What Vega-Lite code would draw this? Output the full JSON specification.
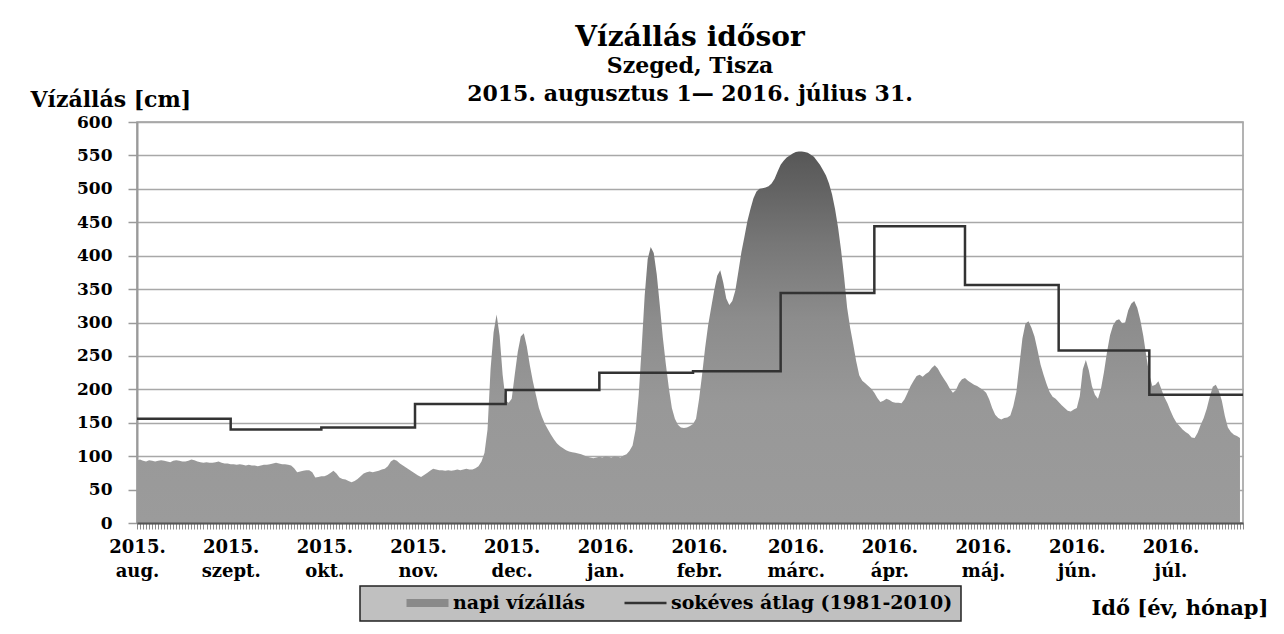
{
 "$schema": "https://vega.github.io/schema/vega-lite/v6.json",
 "width": 1106,
 "height": 401,
 "autosize": {"type": "none"},
 "padding": {"left": 137, "top": 122, "right": 41, "bottom": 111},
 "background": "white",
 "title": {
  "text": "Vízállás idősor",
  "subtitle": ["Szeged, Tisza", "2015. augusztus 1— 2016.  július 31."],
  "anchor": "middle", "frame": "group",
  "font": "DejaVu Serif", "fontSize": 28, "fontWeight": "bold", "color": "black",
  "subtitleFont": "DejaVu Serif", "subtitleFontSize": 22, "subtitleFontWeight": "bold", "subtitleColor": "black",
  "subtitleLineHeight": 28, "subtitlePadding": 4, "offset": -17
 },
 "config": {
  "view": {"stroke": "#9a9a9a", "strokeWidth": 1.5},
  "axis": {"labelFont": "DejaVu Serif", "labelFontWeight": "bold", "labelColor": "black", "titleFont": "DejaVu Serif", "titleFontWeight": "bold", "titleColor": "black"}
 },
 "datasets": {
  "napi": [
{"nap":0,"v":94},{"nap":1,"v":95},{"nap":2,"v":93},{"nap":3,"v":92},{"nap":4,"v":94},{"nap":5,"v":93},{"nap":6,"v":92},{"nap":7,"v":93},{"nap":8,"v":94},{"nap":9,"v":93},{"nap":10,"v":92},{"nap":11,"v":91},{"nap":12,"v":93},{"nap":13,"v":94},{"nap":14,"v":93},{"nap":15,"v":92},{"nap":16,"v":92},{"nap":17,"v":93},{"nap":18,"v":95},{"nap":19,"v":94},{"nap":20,"v":92},{"nap":21,"v":91},{"nap":22,"v":90},{"nap":23,"v":91},{"nap":24,"v":90},{"nap":25,"v":90},{"nap":26,"v":91},{"nap":27,"v":92},{"nap":28,"v":90},{"nap":29,"v":89},{"nap":30,"v":89},
{"nap":31,"v":88},{"nap":32,"v":88},{"nap":33,"v":87},{"nap":34,"v":88},{"nap":35,"v":87},{"nap":36,"v":86},{"nap":37,"v":87},{"nap":38,"v":86},{"nap":39,"v":86},{"nap":40,"v":85},{"nap":41,"v":86},{"nap":42,"v":87},{"nap":43,"v":87},{"nap":44,"v":88},{"nap":45,"v":89},{"nap":46,"v":90},{"nap":47,"v":89},{"nap":48,"v":88},{"nap":49,"v":88},{"nap":50,"v":87},{"nap":51,"v":86},{"nap":52,"v":82},{"nap":53,"v":76},{"nap":54,"v":77},{"nap":55,"v":78},{"nap":56,"v":79},{"nap":57,"v":79},{"nap":58,"v":76},{"nap":59,"v":68},{"nap":60,"v":69},
{"nap":61,"v":70},{"nap":62,"v":70},{"nap":63,"v":72},{"nap":64,"v":75},{"nap":65,"v":78},{"nap":66,"v":74},{"nap":67,"v":68},{"nap":68,"v":66},{"nap":69,"v":65},{"nap":70,"v":63},{"nap":71,"v":61},{"nap":72,"v":63},{"nap":73,"v":66},{"nap":74,"v":70},{"nap":75,"v":74},{"nap":76,"v":76},{"nap":77,"v":77},{"nap":78,"v":76},{"nap":79,"v":77},{"nap":80,"v":78},{"nap":81,"v":80},{"nap":82,"v":81},{"nap":83,"v":85},{"nap":84,"v":92},{"nap":85,"v":95},{"nap":86,"v":93},{"nap":87,"v":89},{"nap":88,"v":86},{"nap":89,"v":83},{"nap":90,"v":80},{"nap":91,"v":77},
{"nap":92,"v":74},{"nap":93,"v":71},{"nap":94,"v":69},{"nap":95,"v":72},{"nap":96,"v":75},{"nap":97,"v":78},{"nap":98,"v":81},{"nap":99,"v":80},{"nap":100,"v":79},{"nap":101,"v":79},{"nap":102,"v":78},{"nap":103,"v":79},{"nap":104,"v":78},{"nap":105,"v":79},{"nap":106,"v":80},{"nap":107,"v":79},{"nap":108,"v":80},{"nap":109,"v":81},{"nap":110,"v":80},{"nap":111,"v":80},{"nap":112,"v":82},{"nap":113,"v":85},{"nap":114,"v":92},{"nap":115,"v":105},{"nap":116,"v":140},{"nap":117,"v":230},{"nap":118,"v":285},{"nap":119,"v":312},{"nap":120,"v":280},{"nap":121,"v":222},
{"nap":122,"v":183},{"nap":123,"v":180},{"nap":124,"v":186},{"nap":125,"v":222},{"nap":126,"v":256},{"nap":127,"v":279},{"nap":128,"v":284},{"nap":129,"v":264},{"nap":130,"v":236},{"nap":131,"v":212},{"nap":132,"v":192},{"nap":133,"v":172},{"nap":134,"v":159},{"nap":135,"v":148},{"nap":136,"v":140},{"nap":137,"v":132},{"nap":138,"v":125},{"nap":139,"v":119},{"nap":140,"v":115},{"nap":141,"v":112},{"nap":142,"v":109},{"nap":143,"v":107},{"nap":144,"v":106},{"nap":145,"v":105},{"nap":146,"v":104},{"nap":147,"v":103},{"nap":148,"v":101},{"nap":149,"v":99},{"nap":150,"v":98},{"nap":151,"v":97},{"nap":152,"v":98},
{"nap":153,"v":99},{"nap":154,"v":98},{"nap":155,"v":100},{"nap":156,"v":99},{"nap":157,"v":98},{"nap":158,"v":100},{"nap":159,"v":99},{"nap":160,"v":98},{"nap":161,"v":101},{"nap":162,"v":103},{"nap":163,"v":108},{"nap":164,"v":116},{"nap":165,"v":140},{"nap":166,"v":190},{"nap":167,"v":262},{"nap":168,"v":340},{"nap":169,"v":395},{"nap":170,"v":413},{"nap":171,"v":404},{"nap":172,"v":372},{"nap":173,"v":326},{"nap":174,"v":278},{"nap":175,"v":238},{"nap":176,"v":202},{"nap":177,"v":172},{"nap":178,"v":156},{"nap":179,"v":147},{"nap":180,"v":143},{"nap":181,"v":142},{"nap":182,"v":143},{"nap":183,"v":145},
{"nap":184,"v":148},{"nap":185,"v":156},{"nap":186,"v":185},{"nap":187,"v":222},{"nap":188,"v":262},{"nap":189,"v":296},{"nap":190,"v":322},{"nap":191,"v":348},{"nap":192,"v":370},{"nap":193,"v":378},{"nap":194,"v":360},{"nap":195,"v":336},{"nap":196,"v":326},{"nap":197,"v":332},{"nap":198,"v":348},{"nap":199,"v":376},{"nap":200,"v":405},{"nap":201,"v":428},{"nap":202,"v":452},{"nap":203,"v":470},{"nap":204,"v":486},{"nap":205,"v":496},{"nap":206,"v":500},{"nap":207,"v":501},{"nap":208,"v":502},{"nap":209,"v":504},{"nap":210,"v":508},{"nap":211,"v":515},{"nap":212,"v":526},
{"nap":213,"v":536},{"nap":214,"v":542},{"nap":215,"v":547},{"nap":216,"v":550},{"nap":217,"v":553},{"nap":218,"v":555},{"nap":219,"v":556},{"nap":220,"v":556},{"nap":221,"v":555},{"nap":222,"v":554},{"nap":223,"v":551},{"nap":224,"v":548},{"nap":225,"v":542},{"nap":226,"v":536},{"nap":227,"v":528},{"nap":228,"v":520},{"nap":229,"v":508},{"nap":230,"v":492},{"nap":231,"v":470},{"nap":232,"v":442},{"nap":233,"v":408},{"nap":234,"v":368},{"nap":235,"v":322},{"nap":236,"v":292},{"nap":237,"v":268},{"nap":238,"v":242},{"nap":239,"v":221},{"nap":240,"v":213},{"nap":241,"v":209},{"nap":242,"v":205},{"nap":243,"v":201},
{"nap":244,"v":195},{"nap":245,"v":187},{"nap":246,"v":181},{"nap":247,"v":183},{"nap":248,"v":186},{"nap":249,"v":184},{"nap":250,"v":181},{"nap":251,"v":180},{"nap":252,"v":180},{"nap":253,"v":179},{"nap":254,"v":185},{"nap":255,"v":195},{"nap":256,"v":205},{"nap":257,"v":213},{"nap":258,"v":220},{"nap":259,"v":222},{"nap":260,"v":219},{"nap":261,"v":223},{"nap":262,"v":226},{"nap":263,"v":232},{"nap":264,"v":236},{"nap":265,"v":231},{"nap":266,"v":223},{"nap":267,"v":216},{"nap":268,"v":209},{"nap":269,"v":201},{"nap":270,"v":195},{"nap":271,"v":199},{"nap":272,"v":209},{"nap":273,"v":215},
{"nap":274,"v":217},{"nap":275,"v":213},{"nap":276,"v":210},{"nap":277,"v":207},{"nap":278,"v":205},{"nap":279,"v":202},{"nap":280,"v":199},{"nap":281,"v":195},{"nap":282,"v":185},{"nap":283,"v":172},{"nap":284,"v":162},{"nap":285,"v":157},{"nap":286,"v":155},{"nap":287,"v":157},{"nap":288,"v":158},{"nap":289,"v":161},{"nap":290,"v":175},{"nap":291,"v":196},{"nap":292,"v":236},{"nap":293,"v":276},{"nap":294,"v":298},{"nap":295,"v":302},{"nap":296,"v":292},{"nap":297,"v":279},{"nap":298,"v":259},{"nap":299,"v":237},{"nap":300,"v":222},{"nap":301,"v":208},{"nap":302,"v":196},{"nap":303,"v":189},{"nap":304,"v":186},
{"nap":305,"v":181},{"nap":306,"v":176},{"nap":307,"v":172},{"nap":308,"v":168},{"nap":309,"v":167},{"nap":310,"v":170},{"nap":311,"v":172},{"nap":312,"v":190},{"nap":313,"v":230},{"nap":314,"v":244},{"nap":315,"v":228},{"nap":316,"v":205},{"nap":317,"v":192},{"nap":318,"v":186},{"nap":319,"v":201},{"nap":320,"v":226},{"nap":321,"v":256},{"nap":322,"v":281},{"nap":323,"v":296},{"nap":324,"v":303},{"nap":325,"v":305},{"nap":326,"v":299},{"nap":327,"v":300},{"nap":328,"v":318},{"nap":329,"v":328},{"nap":330,"v":332},{"nap":331,"v":322},{"nap":332,"v":304},{"nap":333,"v":280},{"nap":334,"v":250},
{"nap":335,"v":222},{"nap":336,"v":205},{"nap":337,"v":207},{"nap":338,"v":212},{"nap":339,"v":200},{"nap":340,"v":188},{"nap":341,"v":179},{"nap":342,"v":168},{"nap":343,"v":158},{"nap":344,"v":150},{"nap":345,"v":145},{"nap":346,"v":140},{"nap":347,"v":136},{"nap":348,"v":133},{"nap":349,"v":128},{"nap":350,"v":127},{"nap":351,"v":135},{"nap":352,"v":147},{"nap":353,"v":157},{"nap":354,"v":171},{"nap":355,"v":189},{"nap":356,"v":204},{"nap":357,"v":207},{"nap":358,"v":198},{"nap":359,"v":183},{"nap":360,"v":160},{"nap":361,"v":143},{"nap":362,"v":136},{"nap":363,"v":132},{"nap":364,"v":130},{"nap":365,"v":127}
  ],
  "atlag": [
{"nap":0,"v":156,"sorozat":"sokéves átlag (1981-2010)"},
{"nap":31,"v":140,"sorozat":"sokéves átlag (1981-2010)"},
{"nap":61,"v":143,"sorozat":"sokéves átlag (1981-2010)"},
{"nap":92,"v":178,"sorozat":"sokéves átlag (1981-2010)"},
{"nap":122,"v":199,"sorozat":"sokéves átlag (1981-2010)"},
{"nap":153,"v":225,"sorozat":"sokéves átlag (1981-2010)"},
{"nap":184,"v":227,"sorozat":"sokéves átlag (1981-2010)"},
{"nap":213,"v":344,"sorozat":"sokéves átlag (1981-2010)"},
{"nap":244,"v":444,"sorozat":"sokéves átlag (1981-2010)"},
{"nap":274,"v":356,"sorozat":"sokéves átlag (1981-2010)"},
{"nap":305,"v":258,"sorozat":"sokéves átlag (1981-2010)"},
{"nap":335,"v":192,"sorozat":"sokéves átlag (1981-2010)"},
{"nap":366,"v":192,"sorozat":"sokéves átlag (1981-2010)"}
  ]
 },
 "encoding": {
  "x": {"field": "nap", "type": "quantitative",
   "scale": {"domain": [0, 366], "nice": false, "zero": false},
   "axis": {"title": "Idő [év, hónap]", "titleFontSize": 21, "titleX": 1131, "titleY": 91, "titleAlign": "right", "titleBaseline": "alphabetic", "titleAnchor": null,
    "tickCount": 366, "grid": false, "labelOverlap": false, "labelFlush": false, "labelBound": false,
    "labelFontSize": 18, "labelLineHeight": 24, "labelPadding": 9, "labelAlign": "center", "labelBaseline": "top",
    "tickSize": 6, "tickColor": "#8a8a8a", "tickWidth": 1, "domainColor": "#555555", "domainWidth": 2, "zindex": 1,
    "labelExpr": "indexof([0,31,62,93,124,155,186,218,249,280,311,342], datum.value) < 0 ? '' : [indexof([0,31,62,93,124,155,186,218,249,280,311,342], datum.value) < 5 ? '2015.' : '2016.', ['aug.','szept.','okt.','nov.','dec.','jan.','febr.','márc.','ápr.','máj.','jún.','júl.'][indexof([0,31,62,93,124,155,186,218,249,280,311,342], datum.value)]]"}},
  "y": {"field": "v", "type": "quantitative",
   "scale": {"domain": [0, 600], "nice": false},
   "axis": {"title": "Vízállás [cm]", "titleFontSize": 22, "titleAngle": 0, "titleX": -107, "titleY": -16, "titleAlign": "left", "titleBaseline": "alphabetic", "titleAnchor": null,
    "values": [0, 50, 100, 150, 200, 250, 300, 350, 400, 450, 500, 550, 600], "tickCount": 13, "labelOverlap": false,
    "labelFontSize": 17, "labelPadding": 16, "tickSize": 9, "tickColor": "#9a9a9a", "tickWidth": 1.5,
    "domainColor": "#9a9a9a", "domainWidth": 2, "gridColor": "#a8a8a8", "gridWidth": 1.5}}
 },
 "layer": [
  {
   "data": {"name": "napi"},
   "mark": {"type": "area", "interpolate": "linear",
    "color": {"gradient": "linear", "x1": 0, "y1": 1, "x2": 0, "y2": 0,
     "stops": [{"offset": 0, "color": "#9b9b9b"}, {"offset": 0.32, "color": "#989898"}, {"offset": 0.55, "color": "#8c8c8c"}, {"offset": 0.75, "color": "#777777"}, {"offset": 0.9, "color": "#636363"}, {"offset": 1, "color": "#575757"}]}}
  },
  {
   "data": {"name": "atlag"},
   "mark": {"type": "line", "interpolate": "step-after", "strokeWidth": 2.5},
   "encoding": {
    "stroke": {"field": "sorozat", "type": "nominal",
     "scale": {"domain": ["napi vízállás", "sokéves átlag (1981-2010)"], "range": ["#8a8a8a", "#333333"]},
     "legend": {"orient": "none", "legendX": 223, "legendY": 464, "direction": "horizontal", "title": null,
      "fillColor": "#c0c0c0", "strokeColor": "#222222", "padding": 8, "clipHeight": 18,
      "labelFont": "DejaVu Serif", "labelFontWeight": "bold", "labelFontSize": 19, "labelColor": "black", "labelLimit": 600,
      "symbolType": "stroke", "symbolOffset": 50, "labelOffset": 16, "columnPadding": 0,
      "encode": {"legend": {"update": {"strokeWidth": {"value": 1.5}}}, "symbols": {"update": {"size": {"value": 1764}, "strokeWidth": {"signal": "datum.value === 'napi vízállás' ? 8 : 2.5"}}}}}}
   }
  }
 ]
}
